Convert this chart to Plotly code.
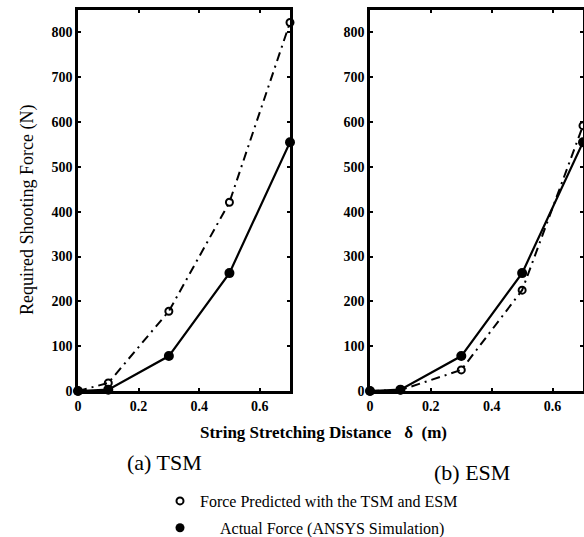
import plotly.graph_objects as go
from plotly.subplots import make_subplots

# ---- data ----
x_vals = [0.0, 0.1, 0.3, 0.5, 0.7]
tsm_predicted = [0, 18, 178, 421, 822]
esm_predicted = [0, 2, 47, 225, 592]
actual_force = [0, 3, 78, 263, 555]
x_ticks = [0, 0.2, 0.4, 0.6]
x_tick_labels = ["0", "0.2", "0.4", "0.6"]
y_ticks = [0, 100, 200, 300, 400, 500, 600, 700, 800]
panel_labels = ["(a) TSM", "(b) ESM"]
legend_labels = ["Force Predicted with the TSM and ESM",
                 "\u00a0\u00a0\u00a0\u00a0\u00a0Actual Force (ANSYS Simulation)"]
x_title = "String Stretching Distance \u00a0\u00a0\u03b4\u00a0 (m)"
y_title = "Required Shooting Force (N)"

# page pixel targets (body margin removed by post_script)
W, H = 584, 537
L, R, T, B = 78, 1, 10, 537 - 391
pw = W - L - R
ph = H - T - B

def px_x(p):
    return (p - L) / pw

def px_y(p):
    return (T + ph - p) / ph

SERIF = "Liberation Serif, Times New Roman, serif"

fig = make_subplots(rows=1, cols=2, horizontal_spacing=0.0)

open_marker = dict(symbol="circle-open", size=7, color="black", line=dict(width=2, color="black"))
filled_marker = dict(symbol="circle", size=10, color="black")

for col, pred in [(1, tsm_predicted), (2, esm_predicted)]:
    fig.add_trace(go.Scatter(x=x_vals, y=pred, mode="lines+markers",
                             line=dict(color="black", width=2, dash="9px,5px,2px,5px"),
                             marker=open_marker, cliponaxis=False, showlegend=False),
                  row=1, col=col)
    fig.add_trace(go.Scatter(x=x_vals, y=actual_force, mode="lines+markers",
                             line=dict(color="black", width=2.2),
                             marker=filled_marker, cliponaxis=False, showlegend=False),
                  row=1, col=col)

# legend-only traces
fig.add_trace(go.Scatter(x=[None], y=[None], mode="markers", marker=open_marker,
                         name=legend_labels[0], legendgroup="a"))
fig.add_trace(go.Scatter(x=[None], y=[None], mode="markers",
                         marker=dict(symbol="circle", size=9, color="black"),
                         name=legend_labels[1], legendgroup="b"))

axis_common = dict(showline=True, linewidth=2.5, linecolor="black", mirror="allticks",
                   ticks="inside", ticklen=3, tickwidth=1.5, tickcolor="black",
                   showgrid=False, zeroline=False,
                   tickfont=dict(family=SERIF, size=14, color="black", weight="bold"))

d1 = [0, px_x(290)]
d2 = [px_x(370), 1]
fig.update_layout(
    xaxis=dict(domain=d1, range=[0, 0.7], tickvals=x_ticks, ticktext=x_tick_labels, **axis_common),
    xaxis2=dict(domain=d2, range=[0, 0.7], tickvals=x_ticks, ticktext=x_tick_labels, **axis_common),
    yaxis=dict(range=[0, 850], tickvals=y_ticks, **axis_common),
    yaxis2=dict(range=[0, 850], tickvals=y_ticks, **axis_common),
)

def ann(text, x, y, size, bold=False, angle=0):
    font = dict(family=SERIF, size=size, color="black")
    if bold:
        font["weight"] = "bold"
    return dict(text=text, x=px_x(x), y=px_y(y), xref="paper", yref="paper",
                xanchor="center", yanchor="middle", textangle=angle,
                showarrow=False, font=font)

fig.update_layout(
    width=W, height=H,
    margin=dict(l=L, r=R, t=T, b=B, autoexpand=False),
    plot_bgcolor="white", paper_bgcolor="white",
    font=dict(family=SERIF, color="black"),
    showlegend=True,
    legend=dict(x=px_x(160), y=px_y(484), xanchor="left", yanchor="top",
                font=dict(family=SERIF, size=16, color="black"),
                tracegroupgap=3, bgcolor="rgba(0,0,0,0)"),
    annotations=[
        ann(x_title, 323, 432, 17, bold=True),
        ann(y_title, 27, 210, 18, angle=-90),
        ann(panel_labels[0], 164, 462, 22),
        ann(panel_labels[1], 472, 472, 22),
    ],
)

fig.write_html(
    "out.html",
    config={"displayModeBar": False},
    post_script=("document.body.style.margin='0';"
                 "document.body.style.overflow='hidden';"
                 "document.documentElement.style.overflow='hidden';"),
)
